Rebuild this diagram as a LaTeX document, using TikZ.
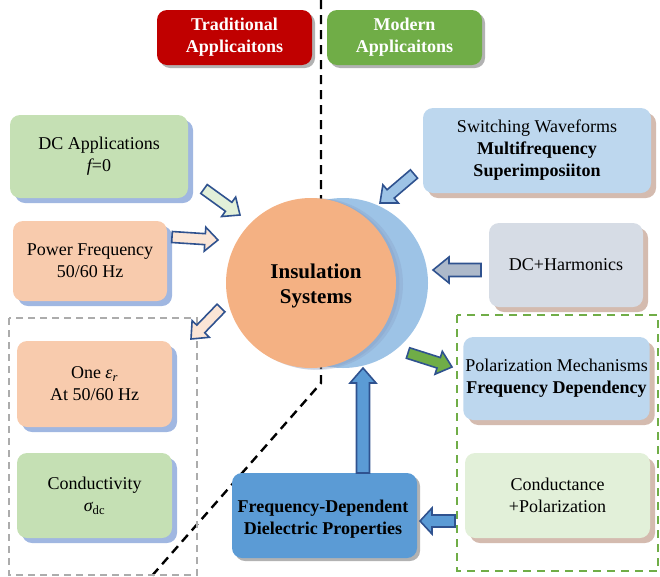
\documentclass[tikz,border=0pt]{standalone}
\usepackage{fontspec}
\setmainfont{Liberation Serif}
\newfontfamily\tnr{Liberation Serif}
\usetikzlibrary{calc,shadows}

\definecolor{tradred}{HTML}{C00000}
\definecolor{modgreen}{HTML}{70AD47}
\definecolor{lgreen}{HTML}{C5E0B4}
\definecolor{peach}{HTML}{F8CBAD}
\definecolor{lblue}{HTML}{BDD7EE}
\definecolor{grayblue}{HTML}{D6DCE5}
\definecolor{palegreen}{HTML}{E2F0D9}
\definecolor{midblue}{HTML}{5B9BD5}
\definecolor{corange}{HTML}{F4B183}
\definecolor{cblue}{HTML}{9DC3E6}
\definecolor{aline}{HTML}{2F528F}
\definecolor{shblue}{HTML}{8FAADC}
\definecolor{shbrown}{HTML}{C9AA9B}
\definecolor{lpeach}{HTML}{FBE5D6}
\definecolor{arrgray}{HTML}{ADB9CA}

% filled block arrow: from, to, shaft half width, head half width, head length, fill
\newcommand{\blockarrow}[6]{%
  \path (#2) -- ($(#2)!#5!(#1)$) coordinate (hb);
  \filldraw[arrline, fill=#6]
    ($(#1)!#3!90:(#2)$) -- ($(hb)!#3!90:(#2)$) -- ($(hb)!#4!90:(#2)$) -- (#2)
    -- ($(hb)!#4!-90:(#2)$) -- ($(hb)!#3!-90:(#2)$) -- ($(#1)!#3!-90:(#2)$) -- cycle;
}

\begin{document}
\begin{tikzpicture}[x=1pt,y=-1pt,
  box/.style={rounded corners=10pt, align=center, inner sep=2pt,
    font=\tnr\fontsize{18}{22}\selectfont},
  lsh/.style={drop shadow={shadow xshift=5pt,shadow yshift=-5pt,fill=shblue,opacity=0.85}},
  rsh/.style={drop shadow={shadow xshift=5pt,shadow yshift=-5pt,fill=shbrown,opacity=0.8}},
  gsh/.style={drop shadow={shadow xshift=3pt,shadow yshift=-3pt,fill=black,opacity=0.3}},
  head/.style={box, text=white, font=\tnr\fontsize{18}{22}\selectfont\bfseries,
    minimum width=155pt, minimum height=55pt},
  arrline/.style={draw=aline, line width=1.6pt, line join=miter},
  divider/.style={black, line width=2.4pt, dash pattern=on 9pt off 6pt},
]
\useasboundingbox (0,0) rectangle (660,576);

% divider between the two application groups
\draw[divider] (321,0) -- (321,383) -- (150,578);

% group frames
\draw[gray!65, line width=1.5pt, dash pattern=on 7pt off 5pt] (9,318) rectangle (197,575);
\draw[modgreen, line width=1.8pt, dash pattern=on 8pt off 6pt] (457,315) rectangle (658,571);

% headers
\node[head, fill=tradred, gsh] (trad) at (234.5,37.5) {Traditional\\Applicaitons};
\node[head, fill=modgreen, gsh] (mod) at (404.5,37.5) {Modern\\Applicaitons};

% central element with its offset blue disc and soft shade
\fill[cblue] (343,283) circle (85);
\fill[aline!60, opacity=0.25] (317,284) circle (86);
\fill[aline!60, opacity=0.25] (314,284) circle (85.5);
\node[circle, fill=corange, minimum size=170pt, inner sep=0pt] (ins) at (311,283) {};
\node[align=center, font=\tnr\fontsize{21}{25}\selectfont\bfseries] (inslabel)
  at (316,286) {Insulation\\Systems};

% traditional boxes
\node[box, fill=lgreen, lsh, minimum width=178pt, minimum height=83pt] (dc) at (99,156.5)
  {DC Applications\\{\itshape f}=0};
\node[box, fill=peach, lsh, minimum width=154pt, minimum height=80pt] (pf) at (90,261)
  {Power Frequency\\50/60 Hz};
\node[box, fill=peach, lsh, minimum width=155pt, minimum height=86pt] (eps) at (94.5,384)
  {One {\itshape ε}\textsubscript{\itshape r}\\At 50/60 Hz};
\node[box, fill=lgreen, lsh, minimum width=155pt, minimum height=85pt] (cond) at (94.5,495.5)
  {Conductivity\\{\itshape σ}\textsubscript{dc}};

% modern boxes
\node[box, fill=lblue, rsh, minimum width=228pt, minimum height=85pt] (sw) at (537,150.5)
  {Switching Waveforms\\\textbf{Multifrequency}\\\textbf{Superimposiiton}};
\node[box, fill=grayblue, rsh, minimum width=154pt, minimum height=84pt] (dch) at (566,265)
  {DC+Harmonics};
\node[box, fill=lblue, rsh, minimum width=185pt, minimum height=83pt] (pol) at (556.5,378.5)
  {Polarization Mechanisms\\\textbf{Frequency Dependency}};
\node[box, fill=palegreen, rsh, minimum width=185pt, minimum height=85pt] (cp) at (557.5,495.5)
  {Conductance\\+Polarization};
\node[box, fill=midblue, gsh, minimum width=185pt, minimum height=85pt] (fd) at (324.5,515.5) {};
\node[align=center, font=\tnr\fontsize{18}{22}\selectfont\bfseries] (fdlabel)
  at (323,519) {Frequency-Dependent\\Dielectric Properties};

% arrow end points
\coordinate (a1s) at (204,189);  \coordinate (a1e) at (240,215);
\coordinate (a2s) at (172,237);  \coordinate (a2e) at (218,240);
\coordinate (a3s) at (221,308);  \coordinate (a3e) at (191,339);
\coordinate (a4s) at (414,174);  \coordinate (a4e) at (380,203);
\coordinate (a5s) at (481,270);  \coordinate (a5e) at (433,270);
\coordinate (a6s) at (408,353);  \coordinate (a6e) at (452,367);
\coordinate (a7s) at (363,473);  \coordinate (a7e) at (363,368);
\coordinate (a8s) at (455,521);  \coordinate (a8e) at (420,521);

\blockarrow{a1s}{a1e}{5.5pt}{12pt}{14pt}{palegreen}
\blockarrow{a2s}{a2e}{5.5pt}{12pt}{13pt}{lpeach}
\blockarrow{a3s}{a3e}{5.5pt}{12pt}{14pt}{lpeach}
\blockarrow{a4s}{a4e}{5.5pt}{12pt}{14pt}{cblue}
\blockarrow{a5s}{a5e}{6.5pt}{13pt}{16pt}{arrgray}
\blockarrow{a6s}{a6e}{5.5pt}{12pt}{14pt}{modgreen}
\blockarrow{a7s}{a7e}{6.5pt}{13pt}{15pt}{midblue}
\blockarrow{a8s}{a8e}{6pt}{13pt}{12pt}{midblue}
\end{tikzpicture}
\end{document}
